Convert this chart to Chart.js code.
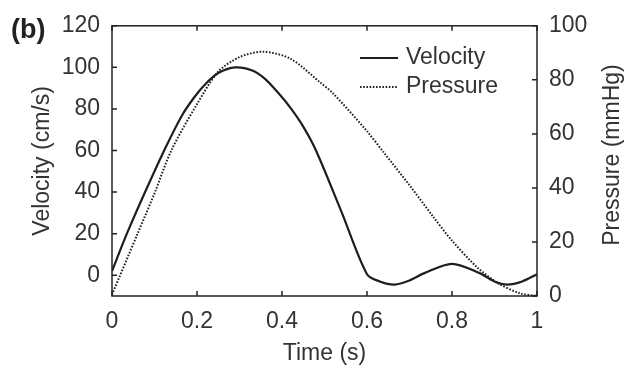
<!DOCTYPE html>
<html>
<head>
<meta charset="utf-8">
<script src="https://cdn.jsdelivr.net/npm/chart.js@4.4.0/dist/chart.umd.min.js"></script>
<style>
html, body { margin: 0; padding: 0; background: #fff; }
#wrap { width: 634px; height: 369px; }
</style>
</head>
<body>
<div id="wrap"><canvas id="chart" width="634" height="369"></canvas></div>
<script>
// values
var velTime = [0, 0.035, 0.08, 0.125, 0.165, 0.195, 0.22, 0.25, 0.29, 0.33, 0.36, 0.39, 0.42, 0.45, 0.48, 0.54, 0.6, 0.63, 0.665, 0.7, 0.735, 0.8, 0.865, 0.9, 0.93, 0.965, 1];
var velocity = [2, 20, 41, 61, 77, 86, 92, 97.3, 100, 98.5, 94.5, 88, 80.5, 71.5, 60, 30.5, 0.5, -3, -4.5, -2.5, 1, 5.5, 1, -3, -4.5, -3, 0.5];
var presTime = [0, 0.06, 0.1, 0.14, 0.2, 0.25, 0.3, 0.355, 0.42, 0.49, 0.52, 0.6, 0.64, 0.7, 0.755, 0.8, 0.86, 0.91, 0.96, 1];
var pressure = [0.5, 23, 38, 54, 71, 83, 88.4, 90.4, 87.8, 79, 75, 61, 53, 41, 29.5, 20.5, 10.5, 4.6, 1, 0];

var timeTicks = [0, 0.2, 0.4, 0.6, 0.8, 1];
var velTicks = [0, 20, 40, 60, 80, 100, 120];
var presTicks = [0, 20, 40, 60, 80, 100];

var textColor = '#333';
var fontFamily = '"Liberation Sans", Arial, sans-serif';

function toPoints(xs, ys) {
    return xs.map(function (x, i) { return { x: x, y: ys[i] }; });
}

// box, inward ticks, legend, right title and panel letter
var frame = {
    id: 'frame',
    afterDraw: function (chart) {
        var ctx = chart.ctx;
        var a = chart.chartArea;
        var s = chart.scales;
        var len = 5;
        ctx.save();
        ctx.strokeStyle = '#222';
        ctx.lineWidth = 1.5;
        ctx.strokeRect(a.left, a.top, a.right - a.left, a.bottom - a.top);

        ctx.beginPath();
        s.x.ticks.forEach(function (t) {
            var px = s.x.getPixelForValue(t.value);
            ctx.moveTo(px, a.bottom); ctx.lineTo(px, a.bottom - len);
            ctx.moveTo(px, a.top); ctx.lineTo(px, a.top + len);
        });
        s.yV.ticks.forEach(function (t) {
            var py = s.yV.getPixelForValue(t.value);
            ctx.moveTo(a.left, py); ctx.lineTo(a.left + len, py);
        });
        s.yP.ticks.forEach(function (t) {
            var py = s.yP.getPixelForValue(t.value);
            ctx.moveTo(a.right, py); ctx.lineTo(a.right - len, py);
        });
        ctx.stroke();

        // legend
        ctx.font = '23px ' + fontFamily;
        ctx.textBaseline = 'middle';
        ctx.textAlign = 'left';
        chart.data.datasets.forEach(function (ds, i) {
            var y = 58 + i * 29;
            ctx.beginPath();
            ctx.strokeStyle = ds.borderColor;
            ctx.lineWidth = ds.borderWidth;
            ctx.setLineDash(ds.borderDash || []);
            ctx.moveTo(360, y); ctx.lineTo(398, y);
            ctx.stroke();
            ctx.setLineDash([]);
            ctx.fillStyle = textColor;
            ctx.fillText(ds.label, 406, y);
        });

        // right axis title, reading upwards
        ctx.save();
        ctx.translate(613, 155);
        ctx.rotate(-Math.PI / 2);
        ctx.textAlign = 'center';
        ctx.fillText('Pressure (mmHg)', 0, 0);
        ctx.restore();

        ctx.font = 'bold 27px ' + fontFamily;
        ctx.fillStyle = '#222';
        ctx.fillText('(b)', 11, 31);
        ctx.restore();
    }
};

document.addEventListener('DOMContentLoaded', function () {
    var ctx = document.getElementById('chart').getContext('2d');
    new Chart(ctx, {
        type: 'line',
        data: {
            datasets: [
                {
                    label: 'Velocity',
                    data: toPoints(velTime, velocity),
                    yAxisID: 'yV',
                    borderColor: '#1e1e1e',
                    borderWidth: 2.2,
                    pointRadius: 0,
                    tension: 0.3
                },
                {
                    label: 'Pressure',
                    data: toPoints(presTime, pressure),
                    yAxisID: 'yP',
                    borderColor: '#222',
                    borderWidth: 2,
                    borderDash: [1.6, 1.6],
                    pointRadius: 0,
                    tension: 0.3
                }
            ]
        },
        options: {
            responsive: false,
            animation: false,
            layout: { padding: { top: 22, left: 0, right: 0, bottom: 0 } },
            plugins: {
                legend: { display: false },
                tooltip: { enabled: false }
            },
            scales: {
                x: {
                    type: 'linear',
                    min: 0,
                    max: 1,
                    afterBuildTicks: function (scale) {
                        scale.ticks = timeTicks.map(function (v) { return { value: v }; });
                    },
                    afterFit: function (scale) { scale.height = 73; },
                    grid: { display: false, drawTicks: false },
                    border: { display: false },
                    ticks: {
                        padding: 12,
                        color: textColor,
                        font: { family: fontFamily, size: 23 },
                        callback: function (v) { return String(v); }
                    },
                    title: {
                        display: true,
                        text: 'Time (s)',
                        color: textColor,
                        font: { family: fontFamily, size: 23 },
                        padding: { top: 0, bottom: 2 }
                    }
                },
                yV: {
                    type: 'linear',
                    position: 'left',
                    min: -10,
                    max: 120,
                    afterBuildTicks: function (scale) {
                        scale.ticks = velTicks.map(function (v) { return { value: v }; });
                    },
                    afterFit: function (scale) { scale.width = 112; },
                    grid: { display: false, drawTicks: false },
                    border: { display: false },
                    ticks: {
                        padding: 12,
                        color: textColor,
                        font: { family: fontFamily, size: 23 }
                    },
                    title: {
                        display: true,
                        text: 'Velocity (cm/s)',
                        color: textColor,
                        font: { family: fontFamily, size: 23 },
                        padding: { top: 29, bottom: 0 }
                    }
                },
                yP: {
                    type: 'linear',
                    position: 'right',
                    min: 0,
                    max: 100,
                    afterBuildTicks: function (scale) {
                        scale.ticks = presTicks.map(function (v) { return { value: v }; });
                    },
                    afterFit: function (scale) { scale.width = 97; },
                    grid: { display: false, drawTicks: false },
                    border: { display: false },
                    ticks: {
                        padding: 12,
                        color: textColor,
                        font: { family: fontFamily, size: 23 }
                    }
                }
            }
        },
        plugins: [frame]
    });
});
</script>
</body>
</html>
